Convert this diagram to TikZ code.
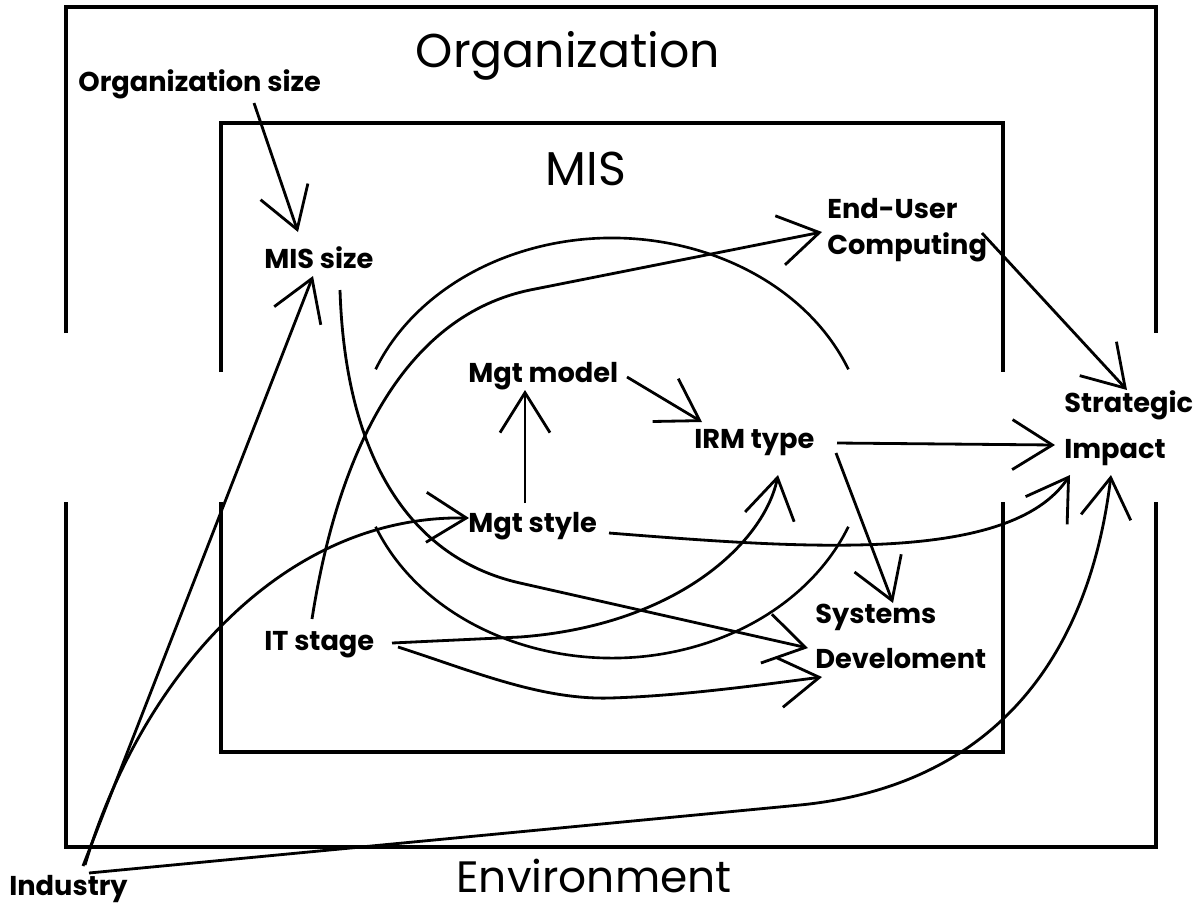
\documentclass[tikz,border=0pt]{standalone}
\usepackage{fontspec}
\setmainfont{Poppins}
\usetikzlibrary{arrows.meta}

\begin{document}
\begin{tikzpicture}[x=0.02cm,y=-0.02cm,
    boxline/.style={line width=2.4pt},
    title/.style={font=\fontsize{27}{30}\selectfont,inner sep=0pt,anchor=base},
    lbl/.style={font=\bfseries\fontsize{15.5}{20}\selectfont,inner sep=0pt,align=left,anchor=base west},
    link/.style={line width=1.6pt,-{Straight Barb[length=0.8cm,width=1cm]}},
    ring/.style={line width=1.5pt}]
    \useasboundingbox (0,0) rectangle (1194,904);

    \path[draw,boxline] (66,333) -- (66,7) -- (1156,7) -- (1156,333);
    \path[draw,boxline] (66,502) -- (66,847) -- (1156,847) -- (1156,502);
    \path[draw,boxline] (221,372) -- (221,123) -- (1003,123) -- (1003,372);
    \path[draw,boxline] (221,502) -- (221,752) -- (1003,752) -- (1003,502);

    \node[title] (org) at (568,67) {Organization};
    \node[title] (mis) at (586,185) {MIS};
    \node[title,font=\fontsize{25}{28}\selectfont] (env) at (594,892) {Environment};

    \node[lbl] (orgsize) at (78,91) {Organization size};
    \node[lbl] (missize) at (264,268) {MIS size};
    \node[lbl] (mgtmodel) at (468,382) {Mgt model};
    \node[lbl] (irm) at (694,448) {IRM type};
    \node[lbl] (mgtstyle) at (468,532) {Mgt style};
    \node[lbl] (itstage) at (264,650) {IT stage};
    \node[lbl] (euc) at (827,254) {End-User\\Computing};
    \node[lbl] (impact) at (1064,458) {Strategic\\[6pt]Impact};
    \node[lbl] (sysdev) at (815,668) {Systems\\[5.5pt]Develoment};
    \node[lbl] (industry) at (9,895) {Industry};

    \path[draw,ring] (848.4,369.3) arc[start angle=22,end angle=158,x radius=5.1cm,y radius=4.2cm];
    \path[draw,ring] (375.6,526.7) arc[start angle=202,end angle=338,x radius=5.1cm,y radius=4.2cm];

    \path[draw,link] ([shift={(176,12)}]orgsize.base west) -- ([shift={(34,-36)}]missize.base west);
    \path[draw,link] ([shift={(74,-29)}]industry.base west) -- ([shift={(49,8)}]missize.base west);
    \path[draw,link] ([shift={(76,-30)}]industry.base west) .. controls (140,680) and (280,515) .. ([shift={(1,-14)}]mgtstyle.base west);
    \path[draw,link] ([shift={(80,-22)}]industry.base west) -- (800,805) .. controls (1000,785) and (1090,650) .. ([shift={(47,17)}]impact.base west);
    \path[draw,link] ([shift={(141,1)}]mgtstyle.base west) .. controls (800,548) and (1010,565) .. ([shift={(6,17)}]impact.base west);
    \path[draw,link] ([shift={(143,-5)}]irm.base west) -- ([shift={(-9,-13)}]impact.base west);
    \path[draw,link] ([shift={(142,5)}]irm.base west) -- ([shift={(78,-65)}]sysdev.base west);
    \path[draw,link] ([shift={(159,-5)}]mgtmodel.base west) -- ([shift={(8,-26)}]irm.base west);
    \path[draw,link] ([shift={(57,-29)}]mgtstyle.base west) -- ([shift={(57,8)}]mgtmodel.base west);
    \path[draw,link] ([shift={(155,-21)}]euc.base west) -- ([shift={(63,-68)}]impact.base west);
    \path[draw,link] ([shift={(48,-31)}]itstage.base west) .. controls (340,440) and (410,315) .. (530,290) -- ([shift={(-5,-22)}]euc.base west);
    \path[draw,link] ([shift={(128,-7)}]itstage.base west) -- (520,637) .. controls (680,625) and (765,540) .. ([shift={(84,27)}]irm.base west);
    \path[draw,link] ([shift={(134,-3)}]itstage.base west) .. controls (470,670) and (540,700) .. (610,698) .. controls (680,696) and (760,685) .. ([shift={(7,9)}]sysdev.base west);
    \path[draw,link] ([shift={(76,22)}]missize.base west) .. controls (345,450) and (405,557) .. (520,583) -- ([shift={(-7,-20)}]sysdev.base west);
\end{tikzpicture}
\end{document}
